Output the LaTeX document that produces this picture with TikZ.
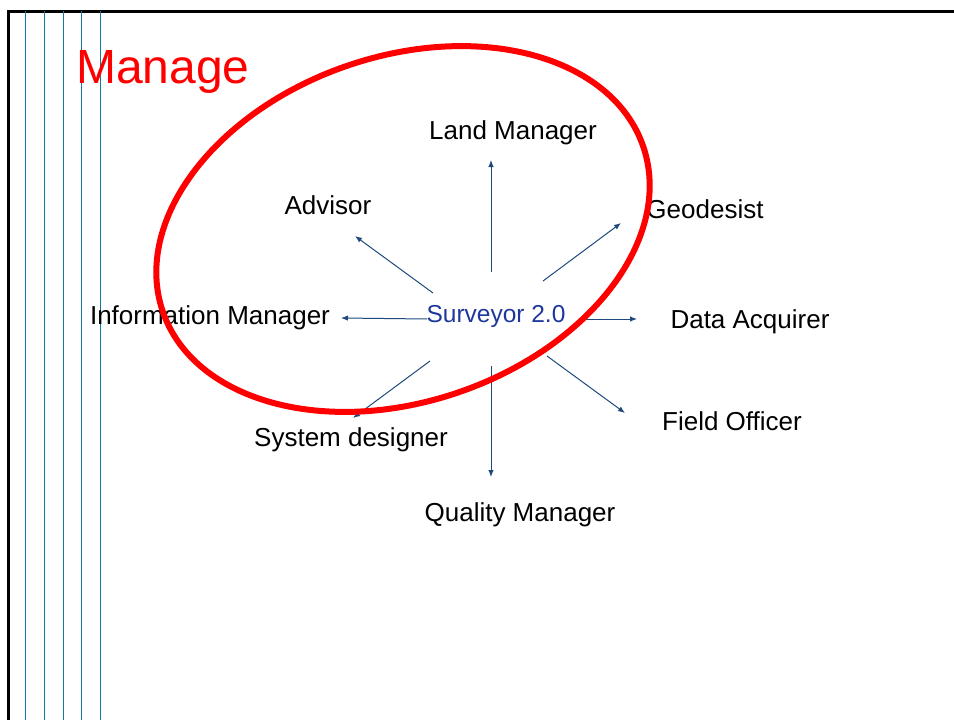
\documentclass[tikz,border=0pt]{standalone}
\usepackage{fontspec}
\setmainfont{Liberation Sans}
\usepackage{tikz}
\usetikzlibrary{arrows.meta}
\definecolor{arrowblue}{RGB}{31,73,125}
\definecolor{textblue}{RGB}{30,55,155}
\definecolor{railblue}{RGB}{20,120,160}
\tikzstyle{role} = [inner sep=0pt, anchor=base, font=\fontsize{26}{30}\selectfont]
\tikzstyle{myarrow} = [draw=arrowblue, line width=1pt, -{Latex[length=7pt, width=5.5pt]}]
\tikzstyle{rail} = [draw=railblue, line width=1pt]

\begin{document}
\begin{tikzpicture}[x=1pt, y=-1pt]
		\useasboundingbox (0,0) rectangle (954,720);
		% frame and rails on the left
		\draw [line width=3pt] (954,11) -- (8,11) -- (8,720);
		\foreach \rx in {25.5,44.3,63.3,81.3,100.3}
			\draw [rail] (\rx,11) -- (\rx,720);
		\node [anchor=base west, inner sep=0pt, text=red,
			font=\fontsize{48}{56}\selectfont] (title) at (76,83) {Manage};

		% roles
		\node [role, text=textblue, font=\fontsize{24.5}{28}\selectfont] (sv) at (496,322) {Surveyor 2.0};
		\node [role] (lm) at (513,139) {Land Manager};
		\node [role] (adv) at (328,214) {Advisor};
		\node [role] (geo) at (705,218) {Geodesist};
		\node [role] (im) at (210,324) {Information Manager};
		\node [role] (da) at (750,328) {Data Acquirer};
		\node [role] (fo) at (732,430) {Field Officer};
		\node [role] (sd) at (351,446) {System designer};
		\node [role] (qm) at (520,521) {Quality Manager};

		% arrow ends
		\coordinate (sv-lm) at (491,272);  \coordinate (to-lm) at (491,160);
		\coordinate (sv-adv) at (433,293); \coordinate (to-adv) at (355,236);
		\coordinate (sv-geo) at (543,281); \coordinate (to-geo) at (621,223);
		\coordinate (sv-im) at (427,319);  \coordinate (to-im) at (341,318);
		\coordinate (sv-da) at (585,319);  \coordinate (to-da) at (637,319);
		\coordinate (sv-sd) at (430,361);  \coordinate (to-sd) at (353,418);
		\coordinate (sv-qm) at (491,366);  \coordinate (to-qm) at (491,477);
		\coordinate (sv-fo) at (547,356);  \coordinate (to-fo) at (625,413);
		\foreach \r in {lm,adv,geo,im,da,sd,qm,fo}
			\draw [myarrow] (sv-\r) -- (to-\r);

		% the circled group
		\draw [red, line width=6pt] (403,229) ellipse [x radius=254, y radius=172.5, rotate=19];
\end{tikzpicture}
\end{document}
